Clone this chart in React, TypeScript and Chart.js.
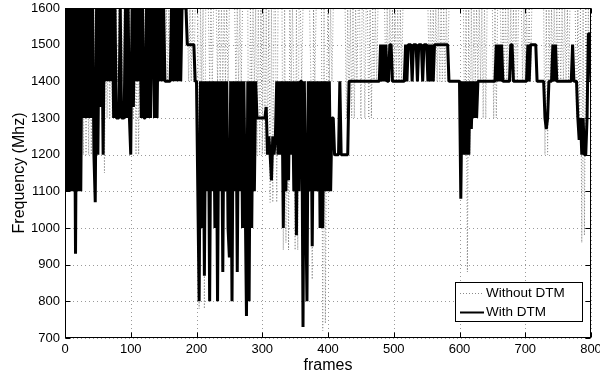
import React, { useEffect, useRef } from "react";
import { Chart, registerables } from "chart.js";

Chart.register(...registerables);

// one sample every 2 frames (frames 0, 2, 4, ..., 800)
const frameStep = 2;

const withoutDTM: number[] = [
  800, 1600, 1100, 1600, 1400, 1600, 1400, 1600, 1400, 1600,
  1400, 1600, 1400, 1600, 1200, 1600, 1200, 1600, 1200, 1600,
  1200, 1600, 1400, 1600, 1400, 1600, 1400, 1600, 1400, 1600,
  1150, 1600, 1300, 1600, 1300, 1600, 1300, 1600, 1400, 1600,
  1400, 1600, 1400, 1600, 1400, 1600, 1400, 1600, 1400, 1600,
  1400, 1600, 1300, 1600, 1200, 1600, 1200, 1600, 1400, 1600,
  1400, 1600, 1400, 1600, 1400, 1600, 1400, 1600, 1400, 1600,
  1400, 1600, 1400, 1600, 1400, 1600, 1400, 1600, 1400, 1600,
  1400, 1600, 1400, 1600, 1400, 1600, 1400, 1600, 1400, 1600,
  1600, 1600, 1600, 1600, 1400, 1600, 1400, 1600, 1400, 1600,
  1600, 1600, 780, 1600, 1400, 1600, 780, 1600, 1600, 1600,
  1400, 1600, 1400, 1600, 1600, 1600, 1400, 1600, 1400, 1600,
  1400, 1600, 1400, 1600, 1400, 1600, 1600, 1600, 1600, 1600,
  1400, 1600, 1400, 1600, 1400, 1600, 1600, 1600, 1600, 1600,
  800, 1600, 1400, 1600, 1400, 1600, 1200, 1600, 1200, 1600,
  1200, 1600, 1200, 1600, 1200, 1600, 1070, 1600, 1070, 1600,
  1600, 1070, 1600, 1600, 1600, 1600, 940, 1600, 960, 1400,
  940, 1600, 1400, 1600, 1400, 940, 1600, 940, 1600, 1600,
  1400, 1600, 1600, 1600, 1600, 1600, 1600, 1400, 860, 1600,
  1400, 1600, 1600, 1600, 1600, 1600, 720, 1600, 740, 1400,
  1600, 1400, 1600, 1400, 1600, 1600, 1600, 1600, 1600, 1600,
  1600, 1600, 1600, 1600, 1300, 1600, 1300, 1600, 1300, 1600,
  1300, 1600, 1400, 1600, 1600, 1300, 1600, 1600, 1300, 1600,
  1600, 1300, 1600, 1300, 1600, 1400, 1600, 1400, 1600, 1600,
  1600, 1600, 1600, 1600, 1400, 1600, 1400, 1600, 1400, 1600,
  1400, 1600, 1400, 1600, 1400, 1600, 1400, 1600, 1600, 1600,
  1600, 1600, 1600, 1600, 1600, 1600, 1600, 1600, 1600, 1600,
  1600, 1600, 1600, 1600, 1600, 1600, 1600, 1400, 1600, 1400,
  1600, 1400, 1600, 1400, 1600, 1400, 1600, 1400, 1600, 1400,
  1600, 1400, 1600, 1600, 1600, 1600, 1600, 1600, 1600, 1600,
  1600, 1600, 1600, 1600, 1200, 1600, 880, 1600, 1200, 1600,
  1300, 1600, 1400, 1600, 1400, 1600, 1400, 1600, 1300, 1600,
  1300, 1600, 1600, 1600, 1600, 1600, 1300, 1600, 1300, 1600,
  1600, 1600, 1400, 1600, 1400, 1600, 1400, 1600, 1400, 1600,
  1400, 1600, 1400, 1600, 1400, 1600, 1600, 1600, 1400, 1600,
  1400, 1600, 1400, 1600, 1400, 1600, 1600, 1600, 1600, 1600,
  1600, 1600, 1600, 1600, 1600, 1200, 1600, 1200, 1600, 1400,
  1600, 1400, 1600, 1400, 1600, 1400, 1600, 1400, 1600, 1400,
  1600, 1400, 1600, 1400, 1600, 1600, 1600, 1600, 1600, 1300,
  1600, 1300, 1600, 960, 1600, 980, 1600, 1400, 1600, 1400,
  1600,
];

const withDTM: number[] = [
  1100, 1600, 1100, 1600, 1100, 1600, 1100, 1600, 930, 1600,
  1100, 1600, 1100, 1600, 1300, 1600, 1300, 1600, 1300, 1600,
  1300, 1600, 1200, 1070, 1600, 1200, 1600, 1330, 1600, 1200,
  1600, 1400, 1600, 1400, 1600, 1400, 1600, 1300, 1600, 1300,
  1300, 1300, 1600, 1300, 1300, 1300, 1600, 1300, 1600, 1300,
  1200, 1600, 1330, 1600, 1400, 1600, 1400, 1600, 1300, 1600,
  1300, 1300, 1600, 1300, 1600, 1300, 1600, 1600, 1300, 1600,
  1300, 1600, 1400, 1600, 1400, 1600, 1400, 1400, 1400, 1400,
  1400, 1600, 1400, 1600, 1400, 1600, 1400, 1600, 1400, 1600,
  1600, 1600, 1600, 1500, 1500, 1500, 1500, 1500, 1500, 1400,
  1400, 1100, 800, 1400, 1000, 1400, 870, 1400, 1100, 1400,
  800, 1400, 1100, 1400, 1000, 1400, 800, 1400, 1100, 1400,
  880, 1400, 1100, 1400, 1000, 920, 1400, 800, 1400, 1100,
  1400, 880, 1400, 1100, 1400, 1000, 1400, 1100, 760, 1400,
  800, 1400, 1000, 1400, 1100, 1400, 1300, 1300, 1300, 1300,
  1300, 1300, 1300, 1330, 1200, 1250, 1200, 1130, 1250, 1200,
  1250, 1400, 1200, 1400, 1200, 1400, 1000, 1400, 1100, 1400,
  1130, 1400, 1200, 1400, 1100, 1400, 980, 1400, 1100, 1400,
  1400, 730, 1400, 1100, 800, 1400, 1100, 1400, 950, 1400,
  1100, 1400, 1100, 1400, 1000, 1400, 1000, 1400, 1100, 1400,
  1100, 1400, 1100, 1300, 1300, 1200, 1200, 1200, 1200, 1400,
  1200, 1200, 1200, 1200, 1200, 1200, 1400, 1400, 1400, 1400,
  1400, 1400, 1400, 1400, 1400, 1400, 1400, 1400, 1400, 1400,
  1400, 1400, 1400, 1400, 1400, 1400, 1400, 1400, 1400, 1400,
  1500, 1400, 1500, 1400, 1500, 1400, 1400, 1500, 1500, 1400,
  1400, 1400, 1400, 1400, 1400, 1400, 1400, 1400, 1400, 1500,
  1400, 1500, 1500, 1500, 1400, 1500, 1500, 1500, 1400, 1500,
  1500, 1500, 1400, 1500, 1500, 1500, 1400, 1500, 1400, 1500,
  1400, 1500, 1500, 1500, 1500, 1500, 1500, 1500, 1500, 1500,
  1500, 1500, 1400, 1400, 1400, 1400, 1400, 1400, 1400, 1400,
  1400, 1080, 1400, 1200, 1400, 1200, 1400, 1200, 1400, 1270,
  1400, 1300, 1400, 1300, 1400, 1400, 1400, 1400, 1400, 1400,
  1400, 1400, 1400, 1400, 1400, 1400, 1400, 1400, 1500, 1400,
  1500, 1400, 1500, 1400, 1400, 1400, 1400, 1400, 1400, 1500,
  1500, 1400, 1400, 1400, 1400, 1400, 1400, 1400, 1400, 1400,
  1400, 1400, 1500, 1400, 1500, 1500, 1500, 1500, 1500, 1400,
  1400, 1400, 1400, 1400, 1400, 1300, 1270, 1300, 1400, 1400,
  1400, 1500, 1400, 1500, 1400, 1400, 1400, 1400, 1400, 1400,
  1400, 1400, 1400, 1400, 1400, 1400, 1500, 1400, 1400, 1400,
  1300, 1240, 1300, 1200, 1300, 1200, 1200, 1300, 1530, 1530,
  1400,
];

const xTicks = [0, 100, 200, 300, 400, 500, 600, 700, 800];
const yTicks = [700, 800, 900, 1000, 1100, 1200, 1300, 1400, 1500, 1600];
const seriesNames = ["Without DTM", "With DTM"];
const xTitle = "frames";
const yTitle = "Frequency (Mhz)";

const FONT = "'Liberation Sans', Arial, Helvetica, sans-serif";

export default function App() {
  const ref = useRef<HTMLCanvasElement>(null);

  useEffect(() => {
    document.body.style.margin = "0";
    const canvas = ref.current;
    if (!canvas) return;

    const toPts = (arr: number[]) => arr.map((v, i) => ({ x: i * frameStep, y: v }));

    const matlabAxes = {
      id: "matlabAxes",
      beforeDatasetsDraw(chart: any) {
        const { ctx, chartArea: a, scales } = chart;
        ctx.save();
        ctx.strokeStyle = "#9a9a9a";
        ctx.lineWidth = 1;
        ctx.setLineDash([1, 3]);
        xTicks.forEach((v) => {
          const px = Math.round(scales.x.getPixelForValue(v)) + 0.5;
          ctx.beginPath();
          ctx.moveTo(px, a.top);
          ctx.lineTo(px, a.bottom);
          ctx.stroke();
        });
        yTicks.forEach((v) => {
          const py = Math.round(scales.y.getPixelForValue(v)) + 0.5;
          ctx.beginPath();
          ctx.moveTo(a.left, py);
          ctx.lineTo(a.right, py);
          ctx.stroke();
        });
        ctx.restore();
      },
      afterDraw(chart: any) {
        const { ctx, chartArea: a, scales } = chart;
        ctx.save();
        ctx.setLineDash([]);
        ctx.strokeStyle = "#000";
        ctx.lineWidth = 1;
        const L = Math.round(a.left) + 0.5;
        const R = Math.round(a.right) - 0.5;
        const T = Math.round(a.top) + 0.5;
        const B = Math.round(a.bottom) - 0.5;
        ctx.strokeRect(L, T, R - L, B - T);
        const tl = 5;
        ctx.beginPath();
        xTicks.forEach((v) => {
          const px = Math.round(scales.x.getPixelForValue(v)) + 0.5;
          ctx.moveTo(px, B);
          ctx.lineTo(px, B - tl);
          ctx.moveTo(px, T);
          ctx.lineTo(px, T + tl);
        });
        yTicks.forEach((v) => {
          const py = Math.round(scales.y.getPixelForValue(v)) + 0.5;
          ctx.moveTo(L, py);
          ctx.lineTo(L + tl, py);
          ctx.moveTo(R, py);
          ctx.lineTo(R - tl, py);
        });
        ctx.stroke();

        // legend box
        const lx = 455, ly = 282, lw = 128, lh = 40;
        ctx.fillStyle = "#fff";
        ctx.fillRect(lx, ly, lw, lh);
        ctx.strokeStyle = "#000";
        ctx.lineWidth = 1;
        ctx.strokeRect(lx + 0.5, ly + 0.5, lw - 1, lh - 1);
        const r1 = ly + 11.5, r2 = ly + 30.5;
        ctx.strokeStyle = "#8a8a8a";
        ctx.setLineDash([1, 2]);
        ctx.beginPath();
        ctx.moveTo(460, r1);
        ctx.lineTo(484, r1);
        ctx.stroke();
        ctx.setLineDash([]);
        ctx.strokeStyle = "#000";
        ctx.lineWidth = 2;
        ctx.beginPath();
        ctx.moveTo(460, r2);
        ctx.lineTo(484, r2);
        ctx.stroke();
        ctx.fillStyle = "#000";
        ctx.font = `13.5px ${FONT}`;
        ctx.textBaseline = "middle";
        ctx.textAlign = "left";
        ctx.fillText(seriesNames[0], 486, r1);
        ctx.fillText(seriesNames[1], 486, r2);
        ctx.restore();
      },
    };

    const chart = new Chart(canvas, {
      type: "line",
      data: {
        datasets: [
          {
            label: seriesNames[1],
            data: toPts(withDTM),
            borderColor: "#000",
            borderWidth: 3,
            borderJoinStyle: "bevel",
            pointRadius: 0,
            tension: 0,
            fill: false,
            order: 1,
          },
          {
            label: seriesNames[0],
            data: toPts(withoutDTM),
            borderColor: "#8a8a8a",
            borderWidth: 1,
            borderDash: [1, 2],
            pointRadius: 0,
            tension: 0,
            fill: false,
            order: 2,
          },
        ],
      },
      options: {
        responsive: false,
        animation: false,
        events: [],
        layout: { padding: { top: 8, right: 9, left: 0, bottom: 0 } },
        plugins: { legend: { display: false }, tooltip: { enabled: false } },
        scales: {
          x: {
            type: "linear",
            min: 0,
            max: 800,
            afterBuildTicks: (s: any) => {
              s.ticks = xTicks.map((v) => ({ value: v }));
            },
            afterFit: (s: any) => {
              s.height = 37;
              s.paddingLeft = 0;
              s.paddingRight = 0;
            },
            grid: { display: false, drawTicks: false },
            border: { display: false },
            ticks: {
              autoSkip: false,
              maxRotation: 0,
              padding: 4,
              color: "#000",
              font: { family: FONT, size: 13 },
              callback: (v: any) => String(v),
            },
            title: {
              display: true,
              text: xTitle,
              color: "#000",
              padding: { top: 0, bottom: 0 },
              font: { family: FONT, size: 16 },
            },
          },
          y: {
            type: "linear",
            min: 700,
            max: 1600,
            afterBuildTicks: (s: any) => {
              s.ticks = yTicks.map((v) => ({ value: v }));
            },
            afterFit: (s: any) => {
              s.width = 65;
              s.paddingTop = 0;
              s.paddingBottom = 0;
            },
            grid: { display: false, drawTicks: false },
            border: { display: false },
            ticks: {
              autoSkip: false,
              padding: 5,
              color: "#000",
              font: { family: FONT, size: 13 },
              callback: (v: any) => String(v),
            },
            title: {
              display: true,
              text: yTitle,
              color: "#000",
              padding: { top: 10, bottom: 0 },
              font: { family: FONT, size: 16 },
            },
          },
        },
      },
      plugins: [matlabAxes],
    });

    return () => chart.destroy();
  }, []);

  return (
    <div style={{ width: 600, height: 375 }}>
      <canvas ref={ref} width={600} height={375} style={{ display: "block" }} />
    </div>
  );
}
